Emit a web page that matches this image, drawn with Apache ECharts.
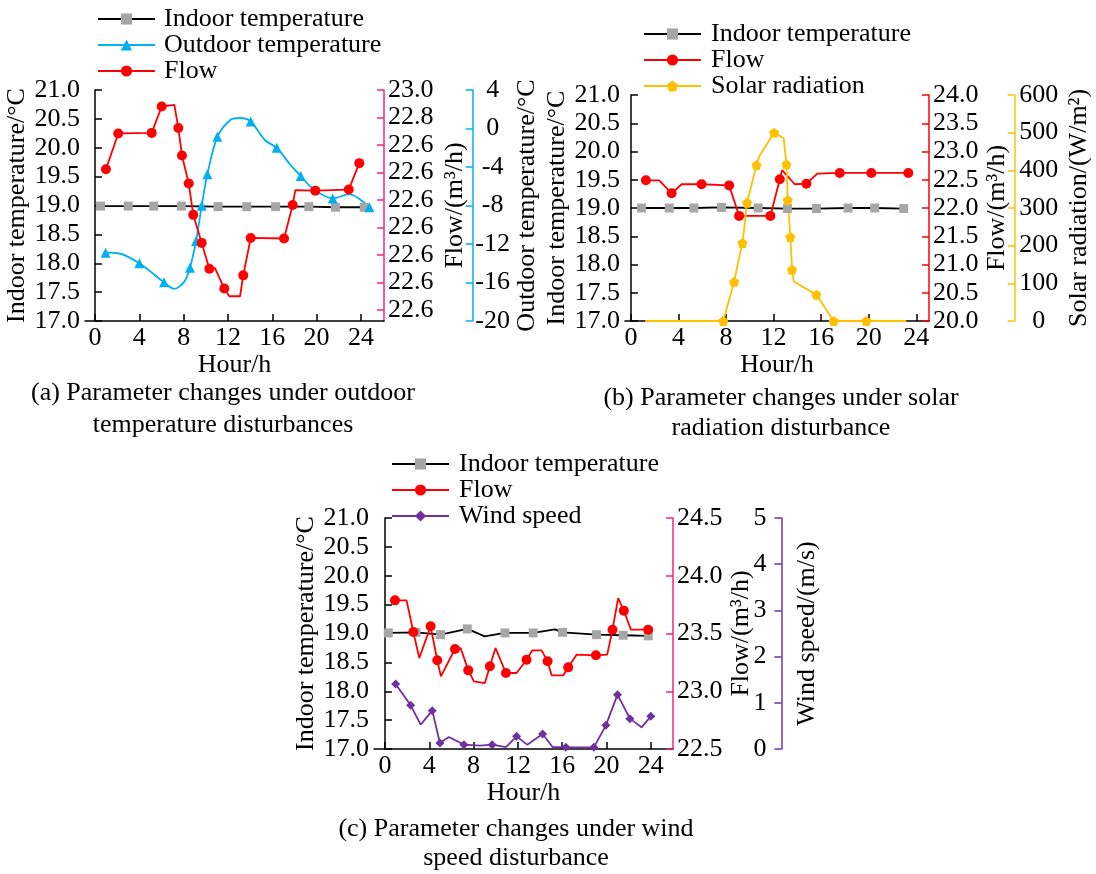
<!DOCTYPE html>
<html>
<head>
<meta charset="utf-8">
<script src="https://cdn.jsdelivr.net/npm/echarts@6/dist/echarts.min.js"></script>
<style>
  html, body { margin: 0; padding: 0; background: #fff; }
  #main { width: 1096px; height: 874px; }
</style>
</head>
<body>
<div id="main"></div>
<script>
// x ticks shared by the three panels
const hourTicks = [0, 4, 8, 12, 16, 20, 24];

// points are [hour, value, marker?]  (0 = plain line vertex, no marker)
// (a) outdoor temperature disturbance
const indoorA = [[0.5, 18.99], [3.0, 18.99], [5.3, 18.99], [7.8, 18.99], [11.1, 18.98],
  [13.7, 18.98], [16.3, 18.98], [19.3, 18.98], [21.7, 18.97], [24.3, 18.97]];
const outdoorA = [[0.96, -12.9, 1], [2.1, -12.96, 0], [4.0, -14.0, 1], [6.23, -15.98, 1], [7.16, -16.67, 0],
  [8.06, -15.91, 0], [8.57, -14.47, 1], [9.12, -11.69, 1], [9.63, -8.02, 1], [10.14, -4.76, 1],
  [11.04, -0.87, 1], [12.24, 0.91, 0], [13.09, 1.09, 0], [14.05, 0.73, 1], [15.34, -1.22, 0],
  [16.4, -2.0, 1], [17.6, -3.73, 0], [18.56, -4.93, 1], [19.7, -6.3, 0], [21.45, -7.26, 1],
  [22.95, -6.82, 0], [24.76, -8.18, 1]];
const flowA = [[0.99, 22.856, 1], [2.1, 22.921, 1], [5.12, 22.922, 1], [6.02, 22.97, 1], [7.16, 22.973, 0],
  [7.52, 22.931, 1], [7.85, 22.881, 1], [8.46, 22.83, 1], [8.87, 22.773, 1], [9.63, 22.722, 1],
  [10.32, 22.675, 1], [10.83, 22.676, 0], [11.67, 22.639, 1], [12.12, 22.625, 0], [13.09, 22.625, 0],
  [13.38, 22.663, 1], [14.05, 22.731, 1], [17.06, 22.73, 1], [17.84, 22.791, 1], [18.08, 22.818, 0],
  [19.88, 22.817, 1], [22.9, 22.819, 1], [23.85, 22.867, 1]];
const flowTicksA = [22.6, 22.65, 22.7, 22.75, 22.8, 22.85, 22.9, 22.95, 23.0];
const flowLabelsA = ['22.6', '22.6', '22.6', '22.6', '22.6', '22.6', '22.6', '22.8', '23.0'];

// (b) solar radiation disturbance
const indoorB = [[0.9, 19.0], [3.22, 19.0], [5.29, 19.0], [7.62, 19.01], [10.7, 19.0],
  [13.16, 18.99], [15.6, 18.99], [18.26, 19.0], [20.5, 19.0], [22.94, 18.99]];
const flowB = [[1.26, 22.49, 1], [2.38, 22.49, 0], [3.42, 22.26, 1], [4.26, 22.42, 0], [5.94, 22.42, 1],
  [8.26, 22.4, 1], [9.1, 21.86, 1], [11.73, 21.86, 1], [12.52, 22.51, 1], [12.71, 22.67, 0],
  [13.78, 22.42, 0], [14.76, 22.43, 1], [15.68, 22.61, 0], [17.56, 22.62, 1], [20.22, 22.62, 1],
  [23.33, 22.62, 1]];
const solarB = [[1.2, 0, 0], [7.76, 0, 1], [8.68, 104, 1], [9.02, 157, 0], [9.38, 207, 1], [9.77, 314, 1],
  [10.56, 414, 1], [10.84, 440, 0], [12.04, 500, 1], [12.85, 485, 0], [13.08, 416, 1], [13.19, 321, 1],
  [13.41, 223, 1], [13.55, 136, 1], [13.69, 105, 0], [15.6, 70, 1], [17.05, 0, 1], [19.8, 0, 1],
  [23.16, 0, 0]];

// (c) wind speed disturbance
const indoorC = [[0.3, 19.01, 1], [2.8, 19.02, 1], [5.02, 18.98, 1], [7.43, 19.08, 1], [9.0, 18.95, 0],
  [10.83, 19.01, 1], [13.38, 19.01, 1], [15.34, 19.07, 0], [16.03, 19.02, 1], [19.1, 18.98, 1],
  [21.5, 18.97, 1], [23.76, 18.96, 1]];
const flowC = [[0.9, 23.787, 1], [1.95, 23.787, 0], [2.56, 23.513, 1], [3.1, 23.288, 0], [4.12, 23.562, 1],
  [4.72, 23.268, 1], [5.05, 23.129, 0], [6.32, 23.366, 1], [6.83, 23.374, 0], [7.52, 23.181, 1],
  [8.03, 23.086, 0], [9.02, 23.071, 0], [9.47, 23.216, 1], [9.98, 23.374, 0], [10.92, 23.158, 1],
  [11.88, 23.158, 0], [12.78, 23.273, 1], [13.29, 23.354, 0], [14.14, 23.354, 0], [14.68, 23.259, 1],
  [15.04, 23.138, 0], [16.09, 23.138, 0], [16.54, 23.207, 1], [17.29, 23.317, 0], [19.04, 23.311, 1],
  [20.06, 23.317, 0], [20.54, 23.533, 1], [21.05, 23.807, 0], [21.56, 23.698, 1], [22.2, 23.533, 0],
  [23.76, 23.533, 1]];
const windC = [[0.96, 1.407, 1], [2.32, 0.945, 1], [3.22, 0.527, 0], [4.27, 0.83, 1], [4.96, 0.13, 1],
  [5.77, 0.26, 0], [7.13, 0.094, 1], [8.57, 0.072, 0], [9.68, 0.094, 1], [10.92, 0.043, 0],
  [11.88, 0.274, 1], [12.84, 0.094, 0], [14.23, 0.325, 1], [15.13, 0.043, 0], [16.33, 0.036, 1],
  [18.86, 0.036, 1], [19.94, 0.512, 1], [20.99, 1.176, 1], [22.11, 0.657, 1], [23.16, 0.469, 0],
  [24.0, 0.707, 1]];

const captions = [
  '(a) Parameter changes under outdoor\ntemperature disturbances',
  '(b) Parameter changes under solar\nradiation disturbance',
  '(c) Parameter changes under wind\nspeed disturbance'
];

const FONT = 'Liberation Serif';
const FS = 26;
const PINK = '#f3267e';
const BLUE = '#00b0f0';
const RED = '#ff0000';
const GOLD = '#ffc000';
const PURPLE = '#7030a0';
const GRAY = '#a6a6a6';
const PENTAGON = 'path://M0,-10 L9.51,-3.09 L5.88,8.09 L-5.88,8.09 L-9.51,-3.09 Z';

let txt = { color: '#000', fontSize: FS, fontFamily: FONT };

let toData = (list) => list.map(p => p[2] === 0
  ? { value: [p[0], p[1]], symbol: 'none' }
  : { value: [p[0], p[1]] });

let line = (name, xi, yi, list, color, lineColor, symbol, size, extra) => Object.assign({
  name: name,
  type: 'line',
  xAxisIndex: xi,
  yAxisIndex: yi,
  data: toData(list),
  symbol: symbol,
  symbolSize: size,
  showAllSymbol: true,
  clip: false,
  lineStyle: { color: lineColor, width: 1.8 },
  itemStyle: { color: color, borderWidth: 0 },
  emphasis: { disabled: true }
}, extra || {});

let xAx = (gi, min, max) => ({
  type: 'value', gridIndex: gi, min: min, max: max,
  axisLine: { show: true, onZero: false, lineStyle: { color: '#000', width: 1.5 } },
  axisTick: { show: true, inside: true, length: 7, customValues: hourTicks, lineStyle: { color: '#000', width: 1.5 } },
  axisLabel: Object.assign({ customValues: hourTicks, margin: 4 }, txt),
  splitLine: { show: false },
  name: 'Hour/h', nameLocation: 'middle', nameGap: 30, nameTextStyle: txt
});

let yAx = (gi, o) => ({
  type: 'value', gridIndex: gi, min: o.min, max: o.max, interval: o.interval,
  position: o.pos, offset: o.offset || 0,
  axisLine: { show: true, lineStyle: { color: o.color, width: 1.5 } },
  axisTick: Object.assign({ show: true, inside: true, length: 7, lineStyle: { color: o.color, width: 1.5 } }, o.tick || {}),
  axisLabel: Object.assign({ margin: 5, formatter: o.fmt }, txt, o.label || {}),
  splitLine: { show: false },
  name: o.name, nameLocation: 'middle', nameGap: o.gap, nameTextStyle: txt
});

let fix1 = (v) => v.toFixed(1);
let flowFmtA = (v) => {
  let i = flowTicksA.findIndex(t => Math.abs(t - v) < 1e-6);
  return i >= 0 ? flowLabelsA[i] : '';
};

let legend = (left, top, lh, pad, names) => ({
  orient: 'vertical', left: left, top: top, itemWidth: 57, itemHeight: 14, itemGap: 0,
  selectedMode: false, padding: 0,
  textStyle: { color: '#000', fontSize: FS, fontFamily: FONT, lineHeight: lh, padding: [0, 0, 0, pad] },
  data: names
});

let caption = (text, cx, top, lh) => ({
  text: text, left: cx, top: top, textAlign: 'center', padding: 0,
  textStyle: { color: '#000', fontSize: FS, fontFamily: FONT, fontWeight: 'normal', lineHeight: lh }
});

let chart = echarts.init(document.getElementById('main'));

let option = {
  animation: false,
  backgroundColor: '#fff',
  title: [
    caption(captions[0], 223, 377, 32),
    caption(captions[1], 781, 383, 30),
    caption(captions[2], 516, 815, 29)
  ],
  legend: [
    legend(97, 6, 24.5, 4, ['Indoor temperature', 'Outdoor temperature', 'Flow']),
    legend(643, 21, 23.5, 5, ['Indoor temperature', 'Flow', 'Solar radiation']),
    legend(391, 451, 23.5, 5, ['Indoor temperature', 'Flow', 'Wind speed'])
  ],
  grid: [
    { left: 85, top: 90, width: 299, height: 231, outerBoundsMode: 'none' },
    { left: 625, top: 95, width: 304, height: 226, outerBoundsMode: 'none' },
    { left: 374, top: 518, width: 299, height: 231, outerBoundsMode: 'none' }
  ],
  xAxis: [xAx(0, -0.9, 26.08), xAx(1, -0.5, 25.07), xAx(2, -0.99, 26.0)],
  yAxis: [
    yAx(0, { min: 17, max: 21, interval: 0.5, pos: 'left', color: '#000', fmt: fix1, name: 'Indoor temperature/°C', gap: 48 }),
    yAx(0, { min: 22.58, max: 23.0, pos: 'right', color: PINK, fmt: flowFmtA, name: 'Flow/(m³/h)', gap: 58,
      tick: { customValues: flowTicksA }, label: { customValues: flowTicksA, margin: 4 } }),
    yAx(0, { min: -20, max: 4, interval: 4, pos: 'right', offset: 88.7, color: BLUE, name: 'Outdoor temperature/°C', gap: 40,
      label: { align: 'center', margin: 20 } }),

    yAx(1, { min: 17, max: 21, interval: 0.5, pos: 'left', color: '#000', fmt: fix1, name: 'Indoor temperature/°C', gap: 48 }),
    yAx(1, { min: 20, max: 24, interval: 0.5, pos: 'right', color: RED, fmt: fix1, name: 'Flow/(m³/h)', gap: 55,
      label: { margin: 4 } }),
    yAx(1, { min: 0, max: 600, interval: 100, pos: 'right', offset: 85.7, color: GOLD, name: 'Solar radiation/(W/m²)', gap: 51,
      label: { align: 'center', margin: 24 } }),

    yAx(2, { min: 17, max: 21, interval: 0.5, pos: 'left', color: '#000', fmt: fix1, name: 'Indoor temperature/°C', gap: 52 }),
    yAx(2, { min: 22.5, max: 24.5, interval: 0.5, pos: 'right', color: PINK, fmt: fix1, name: 'Flow/(m³/h)', gap: 55,
      label: { margin: 4 } }),
    yAx(2, { min: 0, max: 5, interval: 1, pos: 'right', offset: 108.4, color: PURPLE, name: 'Wind speed/(m/s)', gap: 13,
      label: { inside: true, margin: 15 } })
  ],
  series: [
    line('Indoor temperature', 0, 0, indoorA, GRAY, '#000', 'rect', 9),
    line('Outdoor temperature', 0, 2, outdoorA, BLUE, BLUE, 'triangle', 10, { smooth: 0.3 }),
    line('Flow', 0, 1, flowA, RED, RED, 'circle', 10),

    line('Indoor temperature', 1, 3, indoorB, GRAY, '#000', 'rect', 9),
    line('Flow', 1, 4, flowB, RED, RED, 'circle', 10),
    line('Solar radiation', 1, 5, solarB, GOLD, GOLD, PENTAGON, 10),

    line('Indoor temperature', 2, 6, indoorC, GRAY, '#000', 'rect', 9),
    line('Flow', 2, 7, flowC, RED, RED, 'circle', 10),
    line('Wind speed', 2, 8, windC, PURPLE, PURPLE, 'diamond', 9)
  ]
};

chart.setOption(option);
</script>
</body>
</html>
